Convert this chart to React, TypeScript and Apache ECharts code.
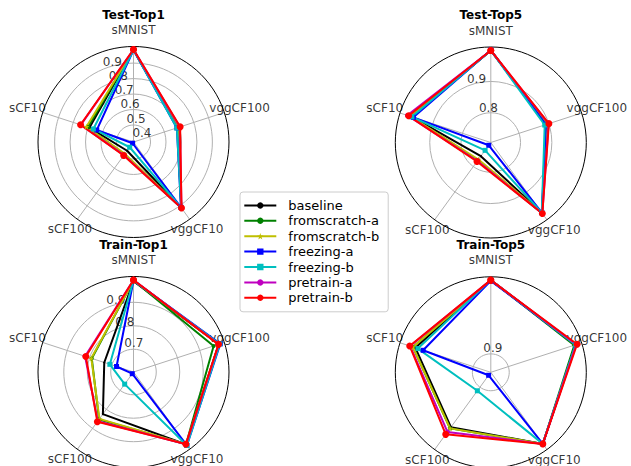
import React, { useEffect, useRef } from 'react';
import * as echarts from 'echarts';

// ---- data ----
const categories = ['sMNIST', 'vggCF100', 'vggCF10', 'sCF100', 'sCF10'];
const seriesNames = ['baseline', 'fromscratch-a', 'fromscratch-b', 'freezing-a', 'freezing-b', 'pretrain-a', 'pretrain-b'];
const radialTicks = [0.4, 0.5, 0.6, 0.7, 0.8, 0.9];
const panelTitles = ['Test-Top1', 'Test-Top5', 'Train-Top1', 'Train-Top5'];

// values per series in category order: sMNIST, vggCF100, vggCF10, sCF100, sCF10
const testTop1 = [
  [0.987, 0.69, 0.915, 0.46, 0.69],
  [0.987, 0.69, 0.917, 0.49, 0.70],
  [0.986, 0.69, 0.917, 0.485, 0.71],
  [0.985, 0.685, 0.912, 0.40, 0.64],
  [0.985, 0.685, 0.914, 0.432, 0.663],
  [0.988, 0.705, 0.918, 0.495, 0.748],
  [0.988, 0.707, 0.918, 0.498, 0.75],
];
const testTop5 = [
  [0.999, 0.892, 0.983, 0.759, 0.972],
  [0.999, 0.893, 0.984, 0.775, 0.975],
  [0.999, 0.892, 0.984, 0.772, 0.975],
  [1.0, 0.89, 0.982, 0.716, 0.965],
  [0.999, 0.886, 0.982, 0.736, 0.97],
  [0.999, 0.899, 0.985, 0.778, 0.985],
  [0.999, 0.9, 0.985, 0.78, 0.981],
];
const trainTop1 = [
  [0.99, 0.985, 0.985, 0.825, 0.734],
  [0.993, 0.962, 0.984, 0.853, 0.79],
  [0.993, 0.985, 0.984, 0.85, 0.792],
  [0.993, 0.992, 0.99, 0.612, 0.679],
  [0.993, 0.99, 0.99, 0.667, 0.709],
  [0.995, 0.985, 0.984, 0.862, 0.82],
  [0.995, 0.984, 0.983, 0.865, 0.8165],
];
const trainTop5 = [
  [1.0, 0.996, 0.995, 0.967, 0.9825],
  [1.0, 0.994, 0.995, 0.969, 0.986],
  [1.0, 0.996, 0.995, 0.969, 0.986],
  [0.999, 0.996, 0.995, 0.88, 0.9715],
  [1.0, 0.996, 0.995, 0.906, 0.979],
  [1.0, 0.997, 0.995, 0.975, 0.99],
  [1.0, 0.998, 0.995, 0.979, 0.9906],
];
const rangeTestTop1 = [0.39, 1.0075];
const rangeTestTop5 = [0.705, 1.01];
const rangeTrainTop1 = [0.603, 1.01];
const rangeTrainTop5 = [0.875, 1.0045];

// ---- styles / layout ----
const colors = ['#000000', '#008000', '#bfbf00', '#0000ff', '#00bfbf', '#bf00bf', '#ff0000'];
const STAR = 'path://M0,-10 L2.35,-3.24 L9.51,-3.09 L3.8,1.24 L5.88,8.09 L0,4 L-5.88,8.09 L-3.8,1.24 L-9.51,-3.09 L-2.35,-3.24 Z';
const symbols = ['circle', 'circle', STAR, 'rect', 'rect', 'circle', 'circle'];
const symbolSizes = [2, 4, 6, 5, 5, 5, 7];
const panelData = [testTop1, testTop5, trainTop1, trainTop5];
const panelRanges = [rangeTestTop1, rangeTestTop5, rangeTrainTop1, rangeTrainTop5];
const centers = [[133.5, 142], [490.8, 142.5], [133.5, 372], [490.8, 372.3]];
const R = 95.5;
const labelPads = [16.5, 16, 12.5, 12.5, 16];
const FONT = 'DejaVu Sans';
const angleVals = categories.map((_, k) => 22.5 + 72 * k);

function buildOption() {
  const series: any[] = [];
  panelData.forEach((data, p) => {
    data.forEach((vals, s) => {
      const pts = vals.map((v, k) => [v, angleVals[k]]);
      pts.push([vals[0], angleVals[0] + 360]);
      series.push({
        type: 'line',
        name: seriesNames[s],
        coordinateSystem: 'polar',
        polarIndex: p,
        data: pts,
        symbol: symbols[s],
        symbolSize: symbolSizes[s],
        showSymbol: true,
        clip: false,
        silent: true,
        z: 3,
        lineStyle: { color: colors[s], width: 2 },
        itemStyle: { color: colors[s] },
        emphasis: { disabled: true },
      });
    });
    const rg = panelRanges[p];
    const span = rg[1] - rg[0];
    // category names, centred just outside the frame
    series.push({
      type: 'scatter',
      name: 'catLabels' + p,
      coordinateSystem: 'polar',
      polarIndex: p,
      data: categories.map((_, k) => [rg[1] + (labelPads[k] / R) * span, angleVals[k]]),
      symbol: 'circle',
      symbolSize: 1,
      clip: false,
      silent: true,
      z: 2,
      itemStyle: { color: 'rgba(0,0,0,0)' },
      label: {
        show: true,
        position: 'inside',
        formatter: (prm: any) => categories[prm.dataIndex],
        fontSize: 12,
        color: '#000',
        fontFamily: FONT,
      },
      emphasis: { disabled: true },
    });
    // radial tick labels along the radius axis direction
    const ticks = radialTicks.filter((t) => t > rg[0] && t < rg[1]);
    series.push({
      type: 'scatter',
      name: 'tickLabels' + p,
      coordinateSystem: 'polar',
      polarIndex: p,
      data: ticks.map((t) => [t, 0]),
      symbol: 'circle',
      symbolSize: 1,
      clip: false,
      silent: true,
      z: 2,
      itemStyle: { color: 'rgba(0,0,0,0)' },
      label: {
        show: true,
        position: [0, -1],
        align: 'left',
        verticalAlign: 'bottom',
        formatter: (prm: any) => ticks[prm.dataIndex].toFixed(1),
        fontSize: 12,
        color: '#000',
        fontFamily: FONT,
      },
      emphasis: { disabled: true },
    });
  });

  return {
    animation: false,
    backgroundColor: '#ffffff',
    textStyle: { fontFamily: FONT },
    title: panelTitles.map((t, i) => ({
      text: t,
      left: centers[i][0],
      top: centers[i][1] - 133.5,
      textAlign: 'center',
      padding: 0,
      textStyle: { fontSize: 12, fontWeight: 'bold', color: '#000', fontFamily: FONT },
    })),
    legend: {
      data: seriesNames,
      orient: 'vertical',
      left: 240,
      top: 192,
      itemWidth: 32,
      itemHeight: 8,
      itemGap: 0,
      padding: [5.7, 9, 6.3, 3.3],
      borderColor: '#cccccc',
      borderWidth: 1,
      borderRadius: 3,
      backgroundColor: 'rgba(255,255,255,0.8)',
      selectedMode: false,
      textStyle: { fontSize: 13, color: '#000', lineHeight: 15.4, padding: [0, 0, 0, 7], fontFamily: FONT },
    },
    polar: centers.map((c) => ({ center: c, radius: [0, R] })),
    angleAxis: centers.map((_, i) => ({
      polarIndex: i,
      type: 'value',
      min: 0,
      max: 360,
      startAngle: 112.5,
      clockwise: true,
      axisLine: { show: true, lineStyle: { color: '#000', width: 1 } },
      axisTick: { show: false, customValues: angleVals },
      axisLabel: { show: false, customValues: angleVals },
      splitLine: { show: true, lineStyle: { color: '#b0b0b0', width: 1 } },
    })),
    radiusAxis: centers.map((_, i) => ({
      polarIndex: i,
      type: 'value',
      min: panelRanges[i][0],
      max: panelRanges[i][1],
      axisLine: { show: false },
      axisTick: { show: false, customValues: radialTicks },
      axisLabel: { show: false, customValues: radialTicks },
      splitLine: { show: true, lineStyle: { color: '#b0b0b0', width: 1 } },
    })),
    series,
  };
}

export default function App() {
  const ref = useRef<HTMLDivElement>(null);
  useEffect(() => {
    if (!ref.current) return;
    const chart = echarts.init(ref.current, undefined, { renderer: 'svg' });
    chart.setOption(buildOption() as any);
    return () => chart.dispose();
  }, []);
  return (
    <div
      ref={ref}
      style={{ position: 'absolute', left: 0, top: 0, width: 631, height: 466, background: '#fff' }}
    />
  );
}
